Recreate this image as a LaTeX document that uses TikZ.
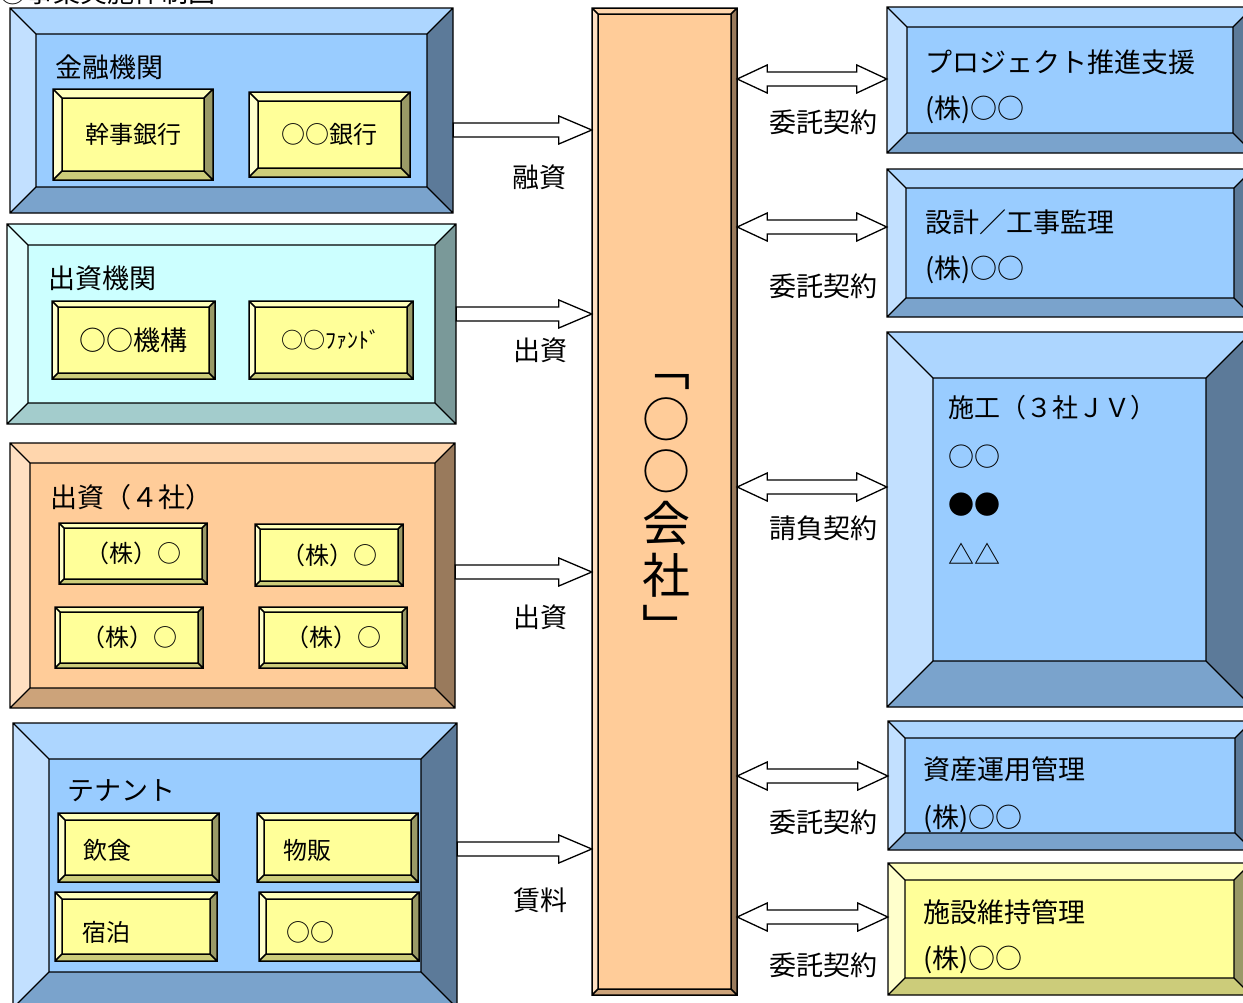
\documentclass[tikz,border=0pt]{standalone}
\usepackage{fontspec}
\setmainfont{Noto Sans CJK JP}
\usetikzlibrary{fit,calc}
% blue
\definecolor{bFace}{HTML}{99CCFF}\definecolor{bTop}{HTML}{ADD6FF}\definecolor{bLeft}{HTML}{C2E0FF}\definecolor{bRight}{HTML}{5C7A99}\definecolor{bBot}{HTML}{7AA3CC}
% cyan
\definecolor{cFace}{HTML}{CCFFFF}\definecolor{cTop}{HTML}{D6FFFF}\definecolor{cLeft}{HTML}{E0FFFF}\definecolor{cRight}{HTML}{7A9999}\definecolor{cBot}{HTML}{A3CCCC}
% orange
\definecolor{oFace}{HTML}{FFCC99}\definecolor{oTop}{HTML}{FFD6AD}\definecolor{oLeft}{HTML}{FFE0C2}\definecolor{oRight}{HTML}{997A5C}\definecolor{oBot}{HTML}{CCA37A}
% yellow
\definecolor{yFace}{HTML}{FFFF99}\definecolor{yTop}{HTML}{FFFFBB}\definecolor{yLeft}{HTML}{FFFFCC}\definecolor{yRight}{HTML}{999966}\definecolor{yBot}{HTML}{CCCC7A}

% #1 name, #2 x1, #3 y1, #4 x2, #5 y2, #6 bevel, #7 colour prefix, #8 line width
\newcommand\bevelbox[8]{%
  \fill[#7Top] (#2,#3) -- (#4,#3) -- (#4-#6,#3+#6) -- (#2+#6,#3+#6) -- cycle;
  \fill[#7Left] (#2,#3) -- (#2+#6,#3+#6) -- (#2+#6,#5-#6) -- (#2,#5) -- cycle;
  \fill[#7Right] (#4,#3) -- (#4,#5) -- (#4-#6,#5-#6) -- (#4-#6,#3+#6) -- cycle;
  \fill[#7Bot] (#2,#5) -- (#4,#5) -- (#4-#6,#5-#6) -- (#2+#6,#5-#6) -- cycle;
  \fill[#7Face] (#2+#6,#3+#6) rectangle (#4-#6,#5-#6);
  \draw[line width=#8, line join=miter]
    (#2,#3) rectangle (#4,#5)
    (#2+#6,#3+#6) rectangle (#4-#6,#5-#6)
    (#2,#3) -- (#2+#6,#3+#6) (#4,#3) -- (#4-#6,#3+#6)
    (#2,#5) -- (#2+#6,#5-#6) (#4,#5) -- (#4-#6,#5-#6);
  \coordinate (#1-nw) at (#2,#3); \coordinate (#1-se) at (#4,#5);
  \node[fit=(#1-nw)(#1-se), inner sep=0pt] (#1) {};
}
\newcommand\rarrow[2]{\draw[blockarrow] let \p1=(#1), \p2=(#2) in
  (\x1,\y1+7) -- (\x2-33,\y1+7) -- (\x2-33,\y1+14) -- (\x2,\y1) -- (\x2-33,\y1-14) -- (\x2-33,\y1-7) -- (\x1,\y1-7) -- cycle;}
\newcommand\darrow[2]{\draw[blockarrow] let \p1=(#1), \p2=(#2) in
  (\x1,\y1) -- (\x1+30,\y1+14) -- (\x1+30,\y1+7) -- (\x2-30,\y1+7) -- (\x2-30,\y1+14) -- (\x2,\y1)
  -- (\x2-30,\y1-14) -- (\x2-30,\y1-7) -- (\x1+30,\y1-7) -- (\x1+30,\y1-14) -- cycle;}

\tikzset{
  blockarrow/.style={draw=black, fill=white, line width=1.3pt, line join=miter},
  big/.style={inner sep=0pt, font=\fontsize{27}{30}\selectfont, text height=23.8pt, text depth=3.2pt},
  jv/.style={inner sep=0pt, font=\fontsize{26}{30}\selectfont, text height=22.9pt, text depth=3.1pt},
  mid/.style={inner sep=0pt, font=\fontsize{24}{28}\selectfont, text height=21.1pt, text depth=2.9pt},
  sml/.style={inner sep=0pt, font=\fontsize{22}{26}\selectfont, text height=19.4pt, text depth=2.6pt},
}

\begin{document}
\begin{tikzpicture}[x=1pt, y=-1pt]
\useasboundingbox (0,0) rectangle (1243,1002);
\fill[white] (0,0) rectangle (1243,1002);

% cut-off heading
\node[big, anchor=base west] (head) at (-1,2) {①事業実施体制図};

% ---------- left column ----------
\bevelbox{fin}{10}{8}{453}{213}{26}{b}{1.3pt}
\node[big, anchor=west] (finT) at (55,67) {金融機関};
\bevelbox{fin1}{53}{89}{213}{180}{9}{y}{1.5pt}
\node[mid] (fin1T) at (fin1) {幹事銀行};
\bevelbox{fin2}{249}{92}{410}{177}{9}{y}{1.5pt}
\node[mid] (fin2T) at (fin2) {○○銀行};

\bevelbox{inv}{7}{224}{456}{424}{21}{c}{1.3pt}
\node[big, anchor=west] (invT) at (48,278) {出資機関};
\bevelbox{inv1}{52}{301}{215}{379}{6}{y}{1.5pt}
\node[big] (inv1T) at (inv1) {○○機構};
\bevelbox{inv2}{249}{301}{413}{379}{6}{y}{1.5pt}
\node[sml] (inv2T) at (inv2) {○○ﾌｧﾝﾄﾞ};

\bevelbox{sh}{10}{443}{455}{708}{20}{o}{1.3pt}
\node[big, anchor=west] (shT) at (50,497) {出資（４社）};
\bevelbox{sh1}{59}{523}{207}{584}{5}{y}{1.5pt}
\node[mid] (sh1T) at (sh1) {（株）○};
\bevelbox{sh2}{255}{524}{403}{586}{5}{y}{1.5pt}
\node[mid] (sh2T) at (sh2) {（株）○};
\bevelbox{sh3}{55}{607}{203}{668}{5}{y}{1.5pt}
\node[mid] (sh3T) at (sh3) {（株）○};
\bevelbox{sh4}{259}{607}{407}{668}{5}{y}{1.5pt}
\node[mid] (sh4T) at (sh4) {（株）○};

\bevelbox{ten}{13}{723}{457}{1008}{36}{b}{1.3pt}
\node[big, anchor=west] (tenT) at (67,790) {テナント};
\bevelbox{ten1}{58}{813}{219}{882}{7}{y}{1.5pt}
\node[mid, anchor=west] (ten1T) at (83,850) {飲食};
\bevelbox{ten2}{257}{813}{418}{882}{7}{y}{1.5pt}
\node[mid, anchor=west] (ten2T) at (283,850) {物販};
\bevelbox{ten3}{55}{892}{217}{961}{7}{y}{1.5pt}
\node[mid, anchor=west] (ten3T) at (82,932) {宿泊};
\bevelbox{ten4}{259}{892}{419}{961}{7}{y}{1.5pt}
\node[mid, anchor=west] (ten4T) at (286,932) {○○};

% ---------- centre column ----------
\bevelbox{co}{592}{8}{737}{995}{6}{o}{1.5pt}
\node[inner sep=0pt, align=center, font=\fontsize{48}{52}\selectfont] (coT) at (666,510) {﹁\\○\\○\\会\\社\\﹂};

% ---------- right column ----------
\bevelbox{r1}{887}{7}{1253}{153}{20}{b}{1.3pt}
\node[big, anchor=west] (r1T) at (925,62) {プロジェクト推進支援};
\node[big, anchor=west] (r1S) at (925,108) {(株)○○};
\bevelbox{r2}{887}{169}{1253}{317}{19}{b}{1.3pt}
\node[big, anchor=west] (r2T) at (925,222) {設計／工事監理};
\node[big, anchor=west] (r2S) at (925,268) {(株)○○};
\bevelbox{r3}{887}{332}{1252}{707}{46}{b}{1.3pt}
\node[jv, anchor=west] (r3T) at (948,408) {施工（３社ＪＶ）};
\node[jv, anchor=west] (r3a) at (948,457) {○○};
\node[jv, anchor=west] (r3b) at (948,505) {●●};
\node[jv, anchor=west] (r3c) at (948,555) {△△};
\bevelbox{r4}{888}{721}{1252}{850}{17}{b}{1.3pt}
\node[big, anchor=west] (r4T) at (923,769) {資産運用管理};
\node[big, anchor=west] (r4S) at (923,817) {(株)○○};
\bevelbox{r5}{888}{863}{1251}{995}{17}{y}{1.3pt}
\node[big, anchor=west] (r5T) at (923,912) {施設維持管理};
\node[big, anchor=west] (r5S) at (923,958) {(株)○○};

% ---------- connectors ----------
\coordinate (ya) at (0,130);
\coordinate (yb) at (0,314);
\coordinate (yc) at (0,572);
\coordinate (yd) at (0,849);
\rarrow{fin.east |- ya}{co.west |- ya}
\rarrow{inv.east |- yb}{co.west |- yb}
\rarrow{sh.east |- yc}{co.west |- yc}
\rarrow{ten.east |- yd}{co.west |- yd}
\node[big] (la) at (539,177) {融資};
\node[big] (lb) at (540,350) {出資};
\node[big] (lc) at (540,617) {出資};
\node[big] (ld) at (540,900) {賃料};

\coordinate (ye) at (0,79);
\coordinate (yf) at (0,227);
\coordinate (yg) at (0,487);
\coordinate (yh) at (0,776);
\coordinate (yi) at (0,917);
\darrow{co.east |- ye}{r1.west |- ye}
\darrow{co.east |- yf}{r2.west |- yf}
\darrow{co.east |- yg}{r3.west |- yg}
\darrow{co.east |- yh}{r4.west |- yh}
\darrow{co.east |- yi}{r5.west |- yi}
\node[big] (le) at (823,122) {委託契約};
\node[big] (lf) at (823,286) {委託契約};
\node[big] (lg) at (823,528) {請負契約};
\node[big] (lh) at (823,822) {委託契約};
\node[big] (li) at (823,965) {委託契約};
\end{tikzpicture}
\end{document}
